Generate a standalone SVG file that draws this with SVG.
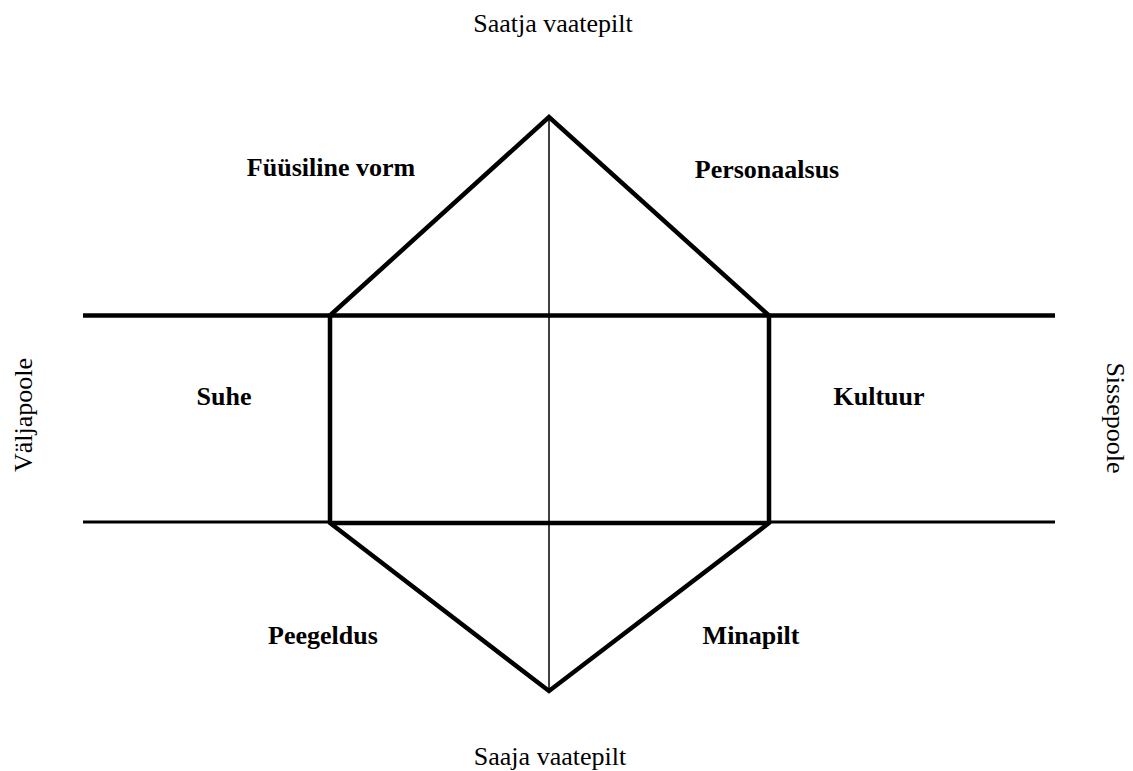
<svg xmlns="http://www.w3.org/2000/svg" width="1133" height="771" viewBox="0 0 1133 771">
<style>
.thick{stroke:#000;stroke-width:4.5;fill:none;stroke-linejoin:miter}
.mid{stroke:#000;stroke-width:3;fill:none}
.thin{stroke:#000;stroke-width:1.5;fill:none}
.lbl{font-family:"Liberation Serif","Times New Roman",serif;font-size:26px;fill:#000;text-anchor:middle}
.b{font-weight:bold}
</style>
<rect width="1133" height="771" fill="#fff"/>
<g id="connectors">
<line class="thin" x1="549" y1="117" x2="549" y2="691"/>
<line class="thick" x1="83" y1="315.5" x2="1055" y2="315.5"/>
<line class="mid" x1="83" y1="522" x2="330" y2="522"/>
<line class="mid" x1="769" y1="522" x2="1055" y2="522"/>
<polygon class="thick" points="330,315.5 549,117 769,315.5 769,523 549,691 330,523"/>
<line class="thick" x1="330" y1="523" x2="769" y2="523"/>
</g>
<g id="top-label"><text class="lbl" x="553" y="32">Saatja vaatepilt</text></g>
<g id="bottom-label"><text class="lbl" x="550" y="765">Saaja vaatepilt</text></g>
<g id="left-label"><text class="lbl" transform="translate(32,415) rotate(-90)">Väljapoole</text></g>
<g id="right-label"><text class="lbl" transform="translate(1107,418) rotate(90)">Sissepoole</text></g>
<g id="fuusiline"><text class="lbl b" x="331" y="176">Füüsiline vorm</text></g>
<g id="personaalsus"><text class="lbl b" x="767" y="178">Personaalsus</text></g>
<g id="suhe"><text class="lbl b" x="224" y="405">Suhe</text></g>
<g id="kultuur"><text class="lbl b" x="879" y="405">Kultuur</text></g>
<g id="peegeldus"><text class="lbl b" x="323" y="644">Peegeldus</text></g>
<g id="minapilt"><text class="lbl b" x="751" y="644">Minapilt</text></g>
</svg>
